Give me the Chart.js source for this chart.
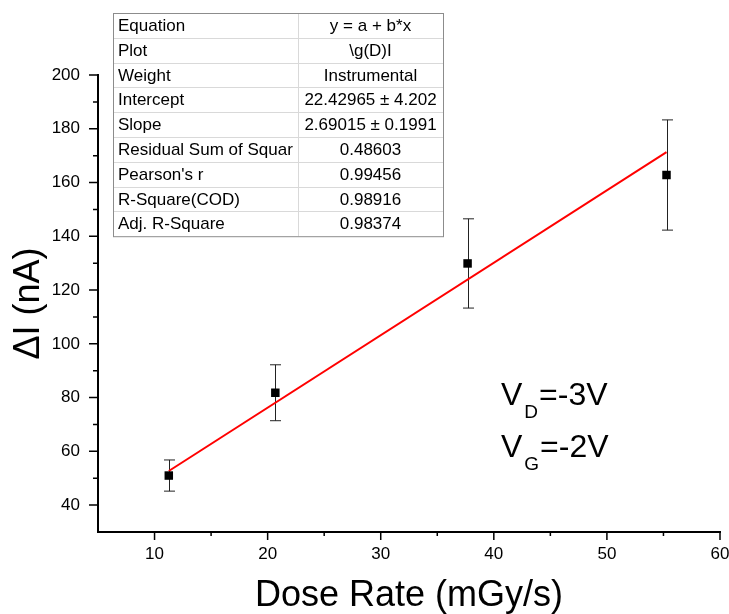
<!DOCTYPE html>
<html>
<head>
<meta charset="utf-8">
<script src="https://cdn.jsdelivr.net/npm/chart.js@4.4.1/dist/chart.umd.min.js"></script>
<style>
  body { margin: 0; background: #fff; }
  #wrap { width: 729px; height: 614px; }
</style>
</head>
<body>
<div id="wrap"><canvas id="myChart" width="729" height="614"></canvas></div>
<script>
// measured points (dose rate vs. current change)
var doseRate = [11.26, 20.68, 37.68, 55.27];
var deltaI = [51.0, 81.8, 129.9, 162.8];
var deltaIErr = [5.8, 10.4, 16.6, 20.5];

// linear fit, end points of the red line
var fitX = [11.26, 55.27];
var fitY = [52.7, 171.3];

// axis ticks
var xTicks = [10, 20, 30, 40, 50, 60];
var xMinorTicks = [15, 25, 35, 45, 55];
var yTicks = [40, 60, 80, 100, 120, 140, 160, 180, 200];
var yMinorTicks = [50, 70, 90, 110, 130, 150, 170, 190];

// fit results table
var tableLabels = ["Equation", "Plot", "Weight", "Intercept", "Slope",
  "Residual Sum of Squar", "Pearson's r", "R-Square(COD)", "Adj. R-Square"];
var tableValues = ["y = a + b*x", "\\g(D)I", "Instrumental", "22.42965 \u00b1 4.202",
  "2.69015 \u00b1 0.1991", "0.48603", "0.99456", "0.98916", "0.98374"];

var FONT = "Arial, 'Liberation Sans', sans-serif";

// error bars, tick marks, table and voltage labels
var extras = {
  id: "extras",
  beforeDatasetsDraw: function (chart) {
    var ctx = chart.ctx;
    var xs = chart.scales.x, ys = chart.scales.y;
    ctx.save();
    ctx.strokeStyle = "#222";
    ctx.lineWidth = 1;
    for (var i = 0; i < doseRate.length; i++) {
      var px = Math.round(xs.getPixelForValue(doseRate[i])) + 0.5;
      var top = ys.getPixelForValue(deltaI[i] + deltaIErr[i]);
      var bot = ys.getPixelForValue(deltaI[i] - deltaIErr[i]);
      ctx.beginPath();
      ctx.moveTo(px, top); ctx.lineTo(px, bot);
      ctx.moveTo(px - 5.5, top); ctx.lineTo(px + 5.5, top);
      ctx.moveTo(px - 5.5, bot); ctx.lineTo(px + 5.5, bot);
      ctx.stroke();
    }
    ctx.restore();
  },
  afterDraw: function (chart) {
    var ctx = chart.ctx;
    var xs = chart.scales.x, ys = chart.scales.y;
    var area = chart.chartArea;
    ctx.save();

    // tick marks
    ctx.strokeStyle = "#000";
    ctx.lineWidth = 1.5;
    ctx.beginPath();
    xTicks.forEach(function (v) {
      var p = xs.getPixelForValue(v);
      ctx.moveTo(p, area.bottom); ctx.lineTo(p, area.bottom + 8);
    });
    xMinorTicks.forEach(function (v) {
      var p = xs.getPixelForValue(v);
      ctx.moveTo(p, area.bottom); ctx.lineTo(p, area.bottom + 4);
    });
    yTicks.forEach(function (v) {
      var p = ys.getPixelForValue(v);
      ctx.moveTo(area.left, p); ctx.lineTo(area.left - 9, p);
    });
    yMinorTicks.forEach(function (v) {
      var p = ys.getPixelForValue(v);
      ctx.moveTo(area.left, p); ctx.lineTo(area.left - 5, p);
    });
    ctx.stroke();

    // results table
    var tx = 113, ty = 13, tw = 330, rowH = 24.8, colX = 298;
    var th = rowH * tableLabels.length;
    ctx.fillStyle = "#fff";
    ctx.fillRect(tx, ty, tw, th);
    ctx.strokeStyle = "#d9d9d9";
    ctx.lineWidth = 1;
    ctx.beginPath();
    for (var r = 1; r < tableLabels.length; r++) {
      var ly = Math.round(ty + r * rowH) + 0.5;
      ctx.moveTo(tx, ly); ctx.lineTo(tx + tw, ly);
    }
    ctx.moveTo(colX + 0.5, ty); ctx.lineTo(colX + 0.5, ty + th);
    ctx.stroke();
    ctx.strokeStyle = "#8c8c8c";
    ctx.strokeRect(tx + 0.5, ty + 0.5, tw, th);
    ctx.fillStyle = "#000";
    ctx.font = "17px " + FONT;
    ctx.textBaseline = "middle";
    for (var k = 0; k < tableLabels.length; k++) {
      var cy = ty + k * rowH + rowH / 2 + 1;
      ctx.textAlign = "left";
      ctx.fillText(tableLabels[k], tx + 5, cy);
      ctx.textAlign = "center";
      ctx.fillText(tableValues[k], (colX + tx + tw) / 2, cy);
    }

    // bias labels
    ctx.textAlign = "left";
    ctx.textBaseline = "alphabetic";
    function biasLabel(x, y, sub, rest) {
      ctx.font = "32px " + FONT;
      ctx.fillText("V", x, y);
      var w = ctx.measureText("V").width;
      ctx.font = "19px " + FONT;
      ctx.fillText(sub, x + w + 2, y + 13);
      var ws = ctx.measureText(sub).width;
      ctx.font = "32px " + FONT;
      ctx.fillText(rest, x + w + ws + 3, y);
    }
    biasLabel(501, 405, "D", "=-3V");
    biasLabel(501, 457, "G", "=-2V");

    ctx.restore();
  }
};

var ctx = document.getElementById("myChart").getContext("2d");
var myChart = new Chart(ctx, {
  type: "scatter",
  data: {
    datasets: [
      {
        label: "Data",
        data: doseRate.map(function (x, i) { return { x: x, y: deltaI[i] }; }),
        pointStyle: "rect",
        pointRadius: 6,
        backgroundColor: "#000",
        borderColor: "#000",
        borderWidth: 0,
        order: 1,
      },
      {
        label: "Linear fit",
        type: "line",
        data: fitX.map(function (x, i) { return { x: x, y: fitY[i] }; }),
        borderColor: "#ff0000",
        borderWidth: 2,
        pointRadius: 0,
        fill: false,
        order: 2,
      },
    ],
  },
  options: {
    responsive: false,
    animation: false,
    layout: { padding: { top: 75, right: 9, left: 0, bottom: 0 } },
    plugins: { legend: { display: false }, tooltip: { enabled: false } },
    scales: {
      x: {
        type: "linear",
        min: 5,
        max: 60,
        afterBuildTicks: function (scale) {
          scale.ticks = xTicks.map(function (v) { return { value: v }; });
        },
        afterFit: function (scale) {
          scale.height = 82;
          scale.paddingRight = 0;
          scale.paddingLeft = 0;
        },
        grid: { display: false, drawTicks: false },
        border: { display: true, color: "#000", width: 2 },
        ticks: { color: "#000", padding: 12, font: { family: FONT, size: 17 } },
        title: {
          display: true,
          text: "Dose Rate (mGy/s)",
          color: "#000",
          padding: { top: 0, bottom: 0 },
          font: { family: FONT, size: 36, lineHeight: 1 },
        },
      },
      y: {
        type: "linear",
        min: 30,
        max: 200,
        afterBuildTicks: function (scale) {
          scale.ticks = yTicks.map(function (v) { return { value: v }; });
        },
        afterFit: function (scale) { scale.width = 98; },
        grid: { display: false, drawTicks: false },
        border: { display: true, color: "#000", width: 2 },
        ticks: { color: "#000", padding: 18, font: { family: FONT, size: 17 } },
        title: {
          display: true,
          text: "\u0394I (nA)",
          color: "#000",
          padding: { top: 11, bottom: 0 },
          font: { family: FONT, size: 36, lineHeight: 1 },
        },
      },
    },
  },
  plugins: [extras],
});
</script>
</body>
</html>
